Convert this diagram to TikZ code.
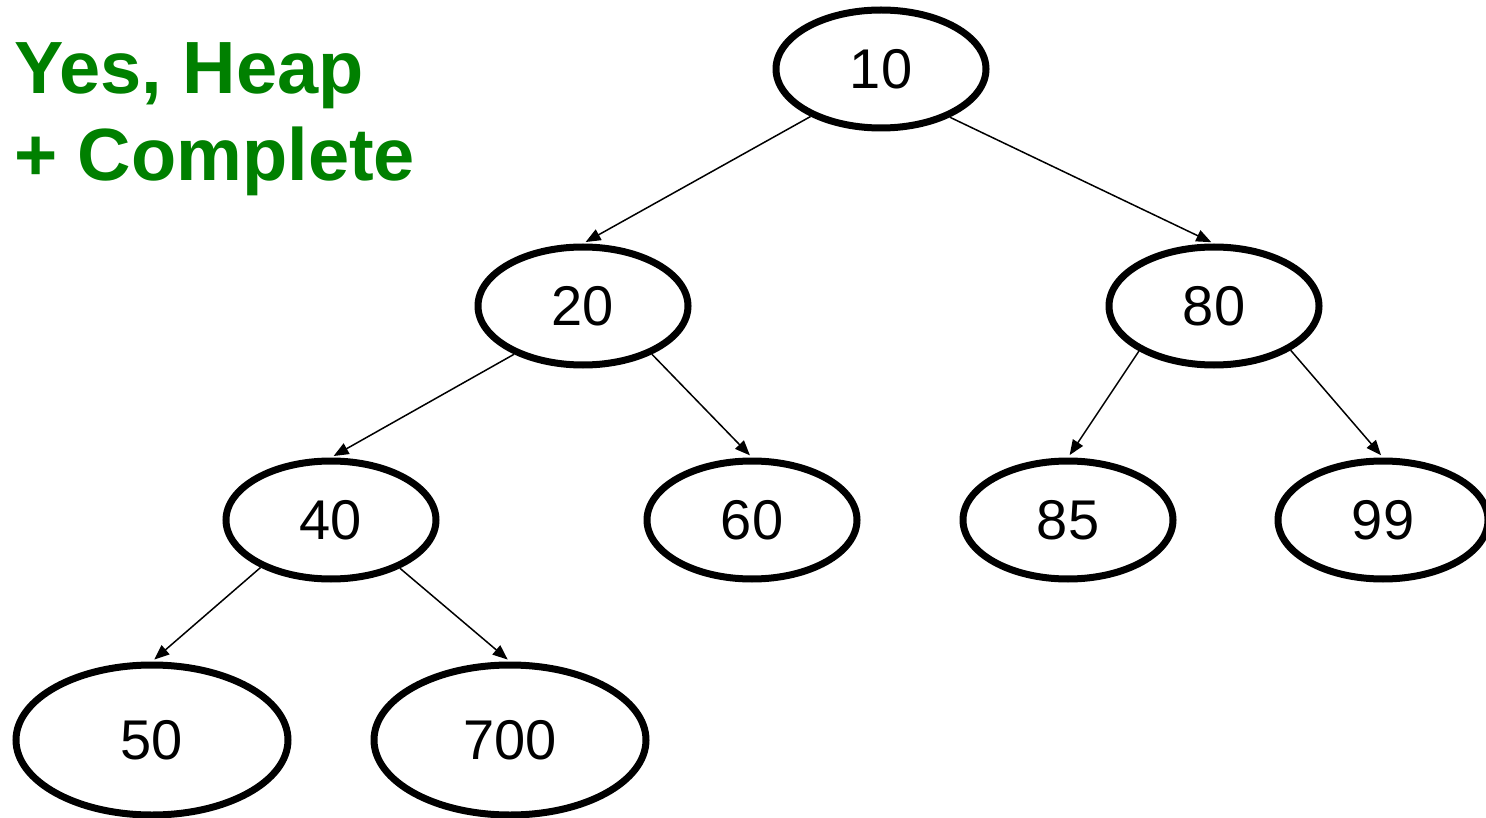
\documentclass[tikz,border=0pt]{standalone}
\usepackage{fontspec}
\setmainfont{Liberation Sans}
\usetikzlibrary{shapes.geometric,arrows.meta}
\definecolor{heapgreen}{RGB}{0,128,0}
\tikzset{
  keynode/.style={ellipse, draw, line width=7pt, inner sep=0pt,
    minimum width=210pt, minimum height=118pt,
    font=\fontsize{56}{60}\selectfont},
  leafnode/.style={keynode, minimum width=272pt, minimum height=150pt},
  link/.style={line width=1.5pt, -{Triangle[length=15pt,width=12pt]}, shorten >=3pt},
  verdict/.style={anchor=base west, inner sep=0pt, text=heapgreen,
    font=\fontsize{74}{80}\selectfont\bfseries}
}
\begin{document}
\begin{tikzpicture}[x=1pt,y=-1pt]
  \useasboundingbox (0,0) rectangle (1486,818);
  % verdict
  \node[verdict] (v1) at (14,94) {Yes, Heap};
  \node[verdict] (v2) at (14,181) {+ Complete};
  % tree
  \node[keynode] (n10) at (881,69) {10};
  \node[keynode] (n20) at (583,306) {20};
  \node[keynode] (n80) at (1214,306) {80};
  \node[keynode] (n40) at (331,520) {40};
  \node[keynode] (n60) at (752,520) {60};
  \node[keynode] (n85) at (1068,520) {85};
  \node[keynode] (n99) at (1383,520) {99};
  \node[leafnode] (n50) at (152,740) {50};
  \node[leafnode] (n700) at (510,740) {700};
  % edges
  \draw[link] (n10.214) -- (n20.north);
  \draw[link] (n10.325) -- (n80.north);
  \draw[link] (n20.215) -- (n40.north);
  \draw[link] (n20.325) -- (n60.north);
  \draw[link] (n80.211) -- (n85.north);
  \draw[link] (n80.330) -- (n99.north);
  \draw[link] (n40.214) -- (n50.north);
  \draw[link] (n40.325) -- (n700.north);
\end{tikzpicture}
\end{document}
